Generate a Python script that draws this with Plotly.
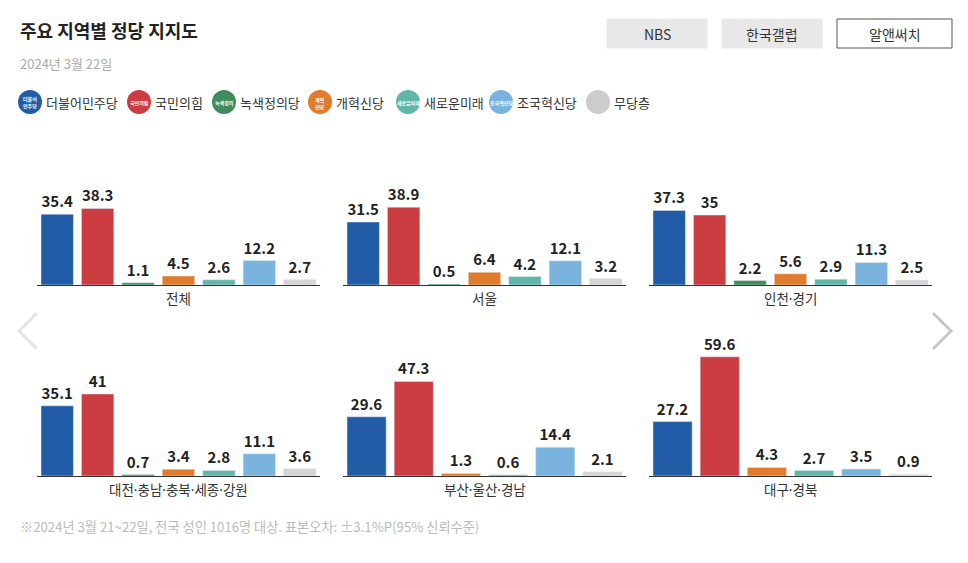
import plotly.graph_objects as go

# 데이터
parties = ["더불어민주당", "국민의힘", "녹색정의당", "개혁신당", "새로운미래", "조국혁신당", "무당층"]
party_colors = ["#225ca6", "#cb3d41", "#3f8b5b", "#e07c2b", "#60b6aa", "#7ab4de", "#d5d5d5"]

regions = ["전체", "서울", "인천·경기", "대전·충남·충북·세종·강원", "부산·울산·경남", "대구·경북"]

all7 = parties
no_green = ["더불어민주당", "국민의힘", "개혁신당", "새로운미래", "조국혁신당", "무당층"]

parties_total = all7
values_total = [35.4, 38.3, 1.1, 4.5, 2.6, 12.2, 2.7]
parties_seoul = all7
values_seoul = [31.5, 38.9, 0.5, 6.4, 4.2, 12.1, 3.2]
parties_incheon = all7
values_incheon = [37.3, 35, 2.2, 5.6, 2.9, 11.3, 2.5]
parties_daejeon = all7
values_daejeon = [35.1, 41, 0.7, 3.4, 2.8, 11.1, 3.6]
parties_busan = no_green
values_busan = [29.6, 47.3, 1.3, 0.6, 14.4, 2.1]
parties_daegu = no_green
values_daegu = [27.2, 59.6, 4.3, 2.7, 3.5, 0.9]

region_parties = [parties_total, parties_seoul, parties_incheon,
                  parties_daejeon, parties_busan, parties_daegu]
region_values = [values_total, values_seoul, values_incheon,
                 values_daejeon, values_busan, values_daegu]

W, H = 968, 563
OFF = 8  # 페이지 body 여백 보정
FONT = "Noto Sans CJK KR"


def px(x, y):
    return (x - OFF) / W, 1 - (y - OFF) / H


def dotfix(s):
    # CJK 글꼴의 넓은 가운뎃점 대신 좁은 점 사용
    return s.replace("·", "<span style='font-family:Noto Sans'>·</span>")


color_of = dict(zip(parties, party_colors))

fig = go.Figure()

# 패널 위치 (픽셀)
col_x = [(37, 320), (343, 626), (649, 932)]
row_y = [(145, 285), (336, 476)]

for i, region in enumerate(regions):
    r, c = divmod(i, 3)
    names = region_parties[i]
    vals = region_values[i]
    n = len(names)
    x0, x1 = col_x[c]
    ytop, ybot = row_y[r]
    ax = "" if i == 0 else str(i + 1)
    slot = (x1 - x0) / n
    d0, e0 = px(x0, ybot)
    d1, e1 = px(x1, ytop)
    fig.add_trace(go.Bar(
        x=names, y=vals,
        xaxis="x" + ax, yaxis="y" + ax,
        marker=dict(color=[color_of[p] for p in names]),
        width=1 - 8 / slot,
        text=["<b>%s</b>" % v for v in vals],
        textposition="outside",
        textfont=dict(size=15, color="#222", family=FONT),
        cliponaxis=False,
        hoverinfo="x+y",
        showlegend=False,
    ))
    fig.update_layout({
        "xaxis" + ax: dict(domain=[d0, d1], range=[-0.5, n - 0.5],
                           showticklabels=False, ticks="", showgrid=False,
                           showline=True, linecolor="#333", linewidth=1,
                           zeroline=False, fixedrange=True,
                           anchor="y" + ax),
        "yaxis" + ax: dict(domain=[e0, e1], range=[0, 70],
                           visible=False, showgrid=False, zeroline=False,
                           fixedrange=True, anchor="x" + ax),
    })
    cx, cy = px((x0 + x1) / 2, ybot + 13)
    fig.add_annotation(x=cx, y=cy, xref="paper", yref="paper", text=dotfix(region),
                       showarrow=False, font=dict(size=13.5, color="#333", family=FONT),
                       xanchor="center", yanchor="middle")

shapes = []
annotations = []

# 제목, 날짜, 주석
tx, ty = px(18, 30)
annotations.append(dict(x=tx, y=ty, text="<b>주요 지역별 정당 지지도</b>", font=dict(size=18, color="#222", family=FONT)))
tx, ty = px(18, 63)
annotations.append(dict(x=tx, y=ty, text="2024년 3월 22일", font=dict(size=13, color="#aaa", family=FONT)))
tx, ty = px(18, 526)
annotations.append(dict(x=tx, y=ty, text="※2024년 3월 21~22일, 전국 성인 1016명 대상. 표본오차: ±3.1%P(95% 신뢰수준)",
                        font=dict(size=13.2, color="#bbb", family=FONT)))

# 버튼
buttons = [("NBS", 607, 707, False), ("한국갤럽", 722, 822, False), ("알앤써치", 837, 952, True)]
for label, bx0, bx1, active in buttons:
    a0, b0 = px(bx0, 19)
    a1, b1 = px(bx1, 48)
    shapes.append(dict(type="rect", xref="paper", yref="paper", x0=a0, x1=a1, y0=b1, y1=b0,
                       fillcolor="#fff" if active else "#e8e8e8",
                       line=dict(color="#555" if active else "#e8e8e8", width=1), layer="below"))
    mx, my = px((bx0 + bx1) / 2, 34)
    annotations.append(dict(x=mx, y=my, text=label, xanchor="center",
                            font=dict(size=14, color="#333", family=FONT)))

# 범례 (원형 아이콘)
legend_x = [30, 139, 224, 320, 408, 501, 598]
logo_text = ["더불어<br>민주당", "국민의힘", "녹색정의", "개혁<br>신당", "새로운미래", "조국혁신당", ""]
for p, col, lx, lt in zip(parties, party_colors, legend_x, logo_text):
    a0, b0 = px(lx - 12, 90)
    a1, b1 = px(lx + 12, 114)
    shapes.append(dict(type="circle", xref="paper", yref="paper", x0=a0, x1=a1, y0=b1, y1=b0,
                       fillcolor=col if p != "무당층" else "#cccccc", line=dict(width=0)))
    if lt:
        mx, my = px(lx, 103)
        annotations.append(dict(x=mx, y=my, text="<b>%s</b>" % lt, xanchor="center",
                                font=dict(size=5, color="#fff", family=FONT)))
    mx, my = px(lx + 14, 102)
    annotations.append(dict(x=mx, y=my, text=p, font=dict(size=13, color="#333", family=FONT)))

# 좌우 화살표
for pts, col in [([(37, 313), (19, 331), (37, 349)], "#e4e4e4"),
                 ([(933, 313), (951, 331), (933, 349)], "#c8c8c8")]:
    cp = [px(*q) for q in pts]
    path = "M %f,%f L %f,%f L %f,%f" % (cp[0] + cp[1] + cp[2])
    shapes.append(dict(type="path", xref="paper", yref="paper", path=path,
                       line=dict(color=col, width=3)))

for a in annotations:
    a.setdefault("xanchor", "left")
    a.update(xref="paper", yref="paper", showarrow=False, yanchor="middle")

fig.update_layout(
    width=W, height=H,
    margin=dict(l=0, r=0, t=0, b=0),
    paper_bgcolor="#fff", plot_bgcolor="#fff",
    font=dict(family=FONT),
    shapes=shapes,
    annotations=list(fig.layout.annotations) + annotations,
)

fig.write_html("out.html")
